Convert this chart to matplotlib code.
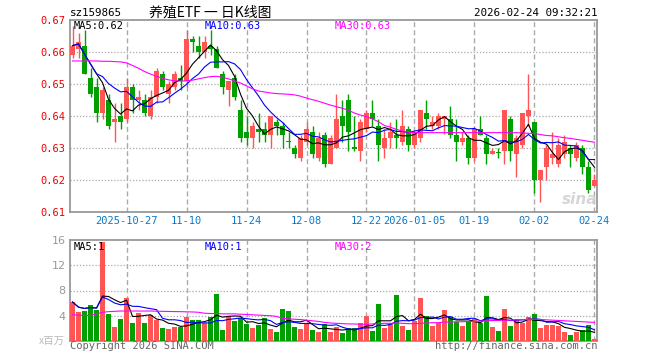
import numpy as np
import pandas as pd
import matplotlib
matplotlib.use('Agg')
import matplotlib.pyplot as plt

code = 'sz159865'
title = '养殖ETF 一 日K线图'
stamp = '2026-02-24 09:32:21'

# trading days shown (exchange holidays removed)
holidays = ['2026-01-01', '2026-01-02', '2026-02-16', '2026-02-17', '2026-02-18',
            '2026-02-19', '2026-02-20', '2026-02-23']
days = pd.bdate_range('2025-10-14', '2026-02-24')
days = days[~days.isin(pd.to_datetime(holidays))]

tick_dates = ['2025-10-27', '2025-11-10', '2025-11-24', '2025-12-08', '2025-12-22',
              '2026-01-05', '2026-01-19', '2026-02-02', '2026-02-24']
tick_labels = ['2025-10-27', '11-10', '11-24', '12-08', '12-22',
               '2026-01-05', '01-19', '02-02', '02-24']

opens = [0.659, 0.661, 0.662, 0.652, 0.649, 0.641, 0.645, 0.638, 0.640, 0.639,
         0.649, 0.645, 0.645, 0.640, 0.646, 0.653, 0.647, 0.649, 0.652, 0.651,
         0.664, 0.662, 0.660, 0.662, 0.661, 0.653, 0.648, 0.652, 0.642, 0.635,
         0.633, 0.636, 0.636, 0.634, 0.638, 0.637, 0.6322, 0.630, 0.627, 0.632,
         0.635, 0.627, 0.634, 0.625, 0.630, 0.640, 0.645, 0.6302, 0.629, 0.636,
         0.641, 0.637, 0.630, 0.633, 0.634, 0.632, 0.636, 0.631, 0.633, 0.641,
         0.637, 0.637, 0.639, 0.639, 0.634, 0.632, 0.633, 0.627, 0.636, 0.633,
         0.628, 0.6288, 0.629, 0.639, 0.628, 0.631, 0.640, 0.638, 0.620, 0.624,
         0.627, 0.625, 0.628, 0.630, 0.627, 0.630, 0.624, 0.618]
highs = [0.668, 0.666, 0.667, 0.655, 0.652, 0.649, 0.647, 0.644, 0.644, 0.652,
         0.650, 0.648, 0.647, 0.648, 0.655, 0.654, 0.651, 0.654, 0.656, 0.667,
         0.665, 0.665, 0.665, 0.667, 0.662, 0.654, 0.651, 0.653, 0.645, 0.640,
         0.638, 0.641, 0.638, 0.640, 0.639, 0.638, 0.635, 0.631, 0.634, 0.638,
         0.637, 0.635, 0.635, 0.634, 0.647, 0.645, 0.647, 0.640, 0.639, 0.642,
         0.645, 0.639, 0.636, 0.638, 0.639, 0.642, 0.637, 0.635, 0.642, 0.645,
         0.640, 0.641, 0.640, 0.643, 0.639, 0.635, 0.634, 0.637, 0.640, 0.634,
         0.630, 0.630, 0.642, 0.640, 0.634, 0.641, 0.653, 0.638, 0.623, 0.631,
         0.635, 0.633, 0.634, 0.631, 0.632, 0.631, 0.626, 0.622]
lows = [0.658, 0.658, 0.653, 0.646, 0.638, 0.639, 0.636, 0.632, 0.636, 0.638,
        0.641, 0.642, 0.640, 0.639, 0.644, 0.648, 0.644, 0.648, 0.648, 0.649,
        0.660, 0.658, 0.658, 0.659, 0.655, 0.647, 0.643, 0.645, 0.632, 0.631,
        0.630, 0.632, 0.632, 0.630, 0.634, 0.630, 0.630, 0.627, 0.626, 0.631,
        0.627, 0.626, 0.624, 0.625, 0.630, 0.632, 0.629, 0.629, 0.626, 0.635,
        0.637, 0.626, 0.627, 0.630, 0.630, 0.631, 0.629, 0.630, 0.632, 0.636,
        0.636, 0.636, 0.6345, 0.633, 0.626, 0.631, 0.625, 0.626, 0.634, 0.625,
        0.628, 0.627, 0.625, 0.626, 0.621, 0.630, 0.637, 0.616, 0.613, 0.620,
        0.625, 0.624, 0.627, 0.624, 0.626, 0.622, 0.616, 0.618]
closes = [0.662, 0.663, 0.653, 0.647, 0.641, 0.648, 0.637, 0.639, 0.638, 0.649,
          0.645, 0.646, 0.641, 0.646, 0.654, 0.649, 0.650, 0.653, 0.651, 0.664,
          0.663, 0.660, 0.663, 0.661, 0.655, 0.649, 0.651, 0.646, 0.633, 0.633,
          0.637, 0.635, 0.634, 0.640, 0.637, 0.634, 0.6318, 0.628, 0.633, 0.636,
          0.628, 0.633, 0.625, 0.633, 0.639, 0.637, 0.635, 0.6298, 0.638, 0.641,
          0.639, 0.631, 0.633, 0.635, 0.633, 0.637, 0.631, 0.635, 0.642, 0.639,
          0.638, 0.640, 0.640, 0.634, 0.632, 0.633, 0.627, 0.636, 0.634, 0.628,
          0.629, 0.6284, 0.642, 0.629, 0.633, 0.641, 0.642, 0.620, 0.623, 0.630,
          0.628, 0.631, 0.632, 0.628, 0.631, 0.624, 0.617, 0.620]
# MA30 of price
ma30 = [0.6572, 0.6572, 0.6572, 0.6572, 0.6572, 0.6571, 0.6571, 0.6570, 0.6569, 0.6566,
        0.6558, 0.6549, 0.6539, 0.6531, 0.6524, 0.6518, 0.6513, 0.6510, 0.6509, 0.6510,
        0.6512, 0.6516, 0.6520, 0.6523, 0.6524, 0.6521, 0.6516, 0.6510, 0.6503, 0.6494,
        0.6485, 0.6478, 0.6475, 0.6472, 0.6470, 0.6469, 0.6468, 0.6466, 0.6462, 0.6456,
        0.6451, 0.6446, 0.6440, 0.6434, 0.6429, 0.6424, 0.6418, 0.6409, 0.6403, 0.6398,
        0.6391, 0.6382, 0.6370, 0.6365, 0.6358, 0.6353, 0.6349, 0.6348, 0.6348, 0.6348,
        0.6348, 0.6348, 0.6348, 0.6348, 0.6348, 0.6348, 0.6348, 0.6348, 0.6348, 0.6348,
        0.6348, 0.6348, 0.6348, 0.6348, 0.6348, 0.6347, 0.6346, 0.6345, 0.6342, 0.6339,
        0.6338, 0.6335, 0.6332, 0.6330, 0.6327, 0.6324, 0.6321, 0.6318]

# volume, millions
volumes = [6.18, 4.54, 4.75, 5.71, 4.91, 15.68, 4.22, 2.15, 3.48, 6.77,
           2.79, 4.38, 2.79, 4.06, 3.37, 1.99, 1.83, 2.15, 2.26, 3.74,
           3.26, 3.26, 2.84, 3.74, 7.40, 1.67, 3.90, 3.11, 3.58, 2.68,
           2.04, 2.47, 3.58, 1.83, 1.35, 5.02, 4.75, 2.26, 1.83, 2.63,
           1.67, 1.35, 2.63, 1.35, 2.15, 1.19, 1.99, 1.99, 2.79, 3.90,
           1.51, 5.81, 1.99, 2.79, 7.25, 2.31, 1.67, 3.11, 6.80, 3.90,
           2.31, 2.79, 4.86, 3.74, 2.95, 2.31, 2.95, 3.42, 2.79, 7.09,
           2.15, 1.51, 5.02, 2.31, 3.42, 2.79, 3.74, 4.22, 2.00, 2.60,
           2.60, 2.30, 1.35, 1.00, 1.35, 1.67, 2.60, 0.24]
vol_ma30 = [4.15, 4.10, 4.05, 4.05, 4.30, 4.55, 4.65, 4.70, 4.75, 4.75,
            4.75, 4.75, 4.75, 4.75, 4.72, 4.70, 4.68, 4.66, 4.65, 4.62,
            4.60, 4.55, 4.40, 4.35, 4.35, 4.30, 4.30, 4.30, 4.25, 4.20,
            4.15, 4.10, 4.05, 4.00, 3.90, 3.60, 3.50, 3.45, 3.40, 3.30,
            3.20, 3.10, 2.95, 2.85, 2.80, 2.75, 2.70, 2.70, 2.65, 2.65,
            2.70, 2.75, 2.80, 2.80, 2.85, 2.80, 2.75, 2.75, 2.80, 2.85,
            2.90, 2.90, 3.00, 3.00, 3.05, 3.05, 3.10, 3.10, 3.15, 3.20,
            3.25, 3.25, 3.30, 3.30, 3.35, 3.40, 3.40, 3.45, 3.40, 3.35,
            3.30, 3.25, 3.20, 3.15, 3.10, 3.05, 3.00, 2.95]

red = '#ff5555'
green = '#00a000'
grid_c = '#aaaaaa'
frame_c = '#999999'
mono = 'DejaVu Sans Mono'

o = np.array(opens)
h = np.array(highs)
l = np.array(lows)
c = np.array(closes)
v = np.array(volumes)
x = np.arange(len(c))
col = np.where(c >= o, red, green)

ma5 = pd.Series(c).rolling(5, min_periods=1).mean()
ma10 = pd.Series(c).rolling(10, min_periods=1).mean()
vma5 = pd.Series(v).rolling(5, min_periods=1).mean()
vma10 = pd.Series(v).rolling(10, min_periods=1).mean()

day_str = [d.strftime('%Y-%m-%d') for d in days]
tick_pos = [day_str.index(d) for d in tick_dates]

W, H = 660, 360
fig = plt.figure(figsize=(6.6, 3.6), dpi=100)
fig.patch.set_facecolor('white')

def fx(px):
    return px / W

def fy(py):
    return 1 - py / H

ax1 = fig.add_axes([fx(70), fy(212), fx(527), 192 / H])
ax2 = fig.add_axes([fx(70), fy(341), fx(527), 101 / H])

xlim = (-0.42, len(c) - 0.58)

# price panel
ax1.vlines(x, l, h, colors=col, lw=1, zorder=3)
body = np.maximum(np.abs(c - o), 0.00012)
ax1.bar(x, body, 0.8, bottom=np.minimum(o, c), color=col, linewidth=0, zorder=3)
ax1.plot(x, ma5, color='black', lw=0.8, zorder=4)
ax1.plot(x, ma10, color='#0000ff', lw=0.8, zorder=4)
ax1.plot(x, ma30, color='#ff00ff', lw=0.8, zorder=4)
ax1.set_xlim(*xlim)
ax1.set_ylim(0.61, 0.67)
ax1.set_yticks([0.61, 0.62, 0.63, 0.64, 0.65, 0.66, 0.67])
ax1.set_yticklabels(['%.2f' % t for t in ax1.get_yticks()], color='#ee0000',
                    fontsize=7.5, family=mono)
for t in [0.62, 0.63, 0.64, 0.65, 0.66]:
    ax1.axhline(t, color=grid_c, lw=0.9, ls=(0, (1, 1.5)), zorder=1)
ax1.set_xticks(tick_pos)
ax1.set_xticklabels(tick_labels, color='#0a78c8', fontsize=7.5, family=mono)

# volume panel
ax2.bar(x, v, 0.8, color=col, linewidth=0, zorder=3)
ax2.plot(x, vma5, color='black', lw=0.8, zorder=4)
ax2.plot(x, vma10, color='#0000ff', lw=0.8, zorder=4)
ax2.plot(x, vol_ma30, color='#ff00ff', lw=0.8, zorder=4)
ax2.set_xlim(*xlim)
ax2.set_ylim(0, 16)
ax2.set_yticks([4, 8, 12, 16])
ax2.set_yticklabels(['4', '8', '12', '16'], color='#999999', fontsize=8)
for t in [4, 8, 12]:
    ax2.axhline(t, color=grid_c, lw=0.9, ls=(0, (1, 1.5)), zorder=1)
ax2.set_xticks([])

for ax in (ax1, ax2):
    for p in tick_pos:
        ax.axvline(p, color=grid_c, lw=1, ls=(0, (3.6, 2.2)), zorder=1)
    for s in ax.spines.values():
        s.set_color(frame_c)
        s.set_linewidth(1.3)
    ax.tick_params(length=0, pad=3)

# header
fig.text(fx(70), fy(12.5), code, fontsize=7.8, family=mono, va='center', ha='left')
fig.text(fx(210), fy(12.5), title, fontsize=10, va='center', ha='center',
         family=['Noto Sans CJK SC', 'DejaVu Sans'])
fig.text(fx(597), fy(12.5), stamp, fontsize=7.8, family=mono, va='center', ha='right')

# MA legends
fig.text(fx(74), fy(26), 'MA5:%.2f' % ma5.iloc[-1], fontsize=7.5, family=mono,
         va='center', color='black')
fig.text(fx(205), fy(26), 'MA10:%.2f' % ma10.iloc[-1], fontsize=7.5, family=mono,
         va='center', color='#0000ff')
fig.text(fx(335), fy(26), 'MA30:%.2f' % ma30[-1], fontsize=7.5, family=mono,
         va='center', color='#ff00ff')
fig.text(fx(74), fy(247), 'MA5:%d' % int(vma5.iloc[-1]), fontsize=7.5, family=mono,
         va='center', color='black')
fig.text(fx(205), fy(247), 'MA10:%d' % int(vma10.iloc[-1]), fontsize=7.5, family=mono,
         va='center', color='#0000ff')
fig.text(fx(335), fy(247), 'MA30:%d' % int(vol_ma30[-1]), fontsize=7.5, family=mono,
         va='center', color='#ff00ff')

# footer
fig.text(fx(65), fy(340.5), 'x百万', fontsize=7.5, color='#bbbbbb', va='center', ha='right',
         family=['Noto Sans CJK SC', 'DejaVu Sans'])
fig.text(fx(70), fy(346), 'Copyright 2026 SINA.COM', fontsize=7.5, family=mono,
         color='#666666', va='center', ha='left')
fig.text(fx(597), fy(346), 'http://finance.sina.com.cn', fontsize=7.5, family=mono,
         color='#666666', va='center', ha='right')

# faint watermark
fig.text(fx(580), fy(199), 'sina', fontsize=11, color='#cccccc', style='italic',
         weight='bold', va='center', ha='center', alpha=0.8)

fig.savefig('out.png', dpi=100)
